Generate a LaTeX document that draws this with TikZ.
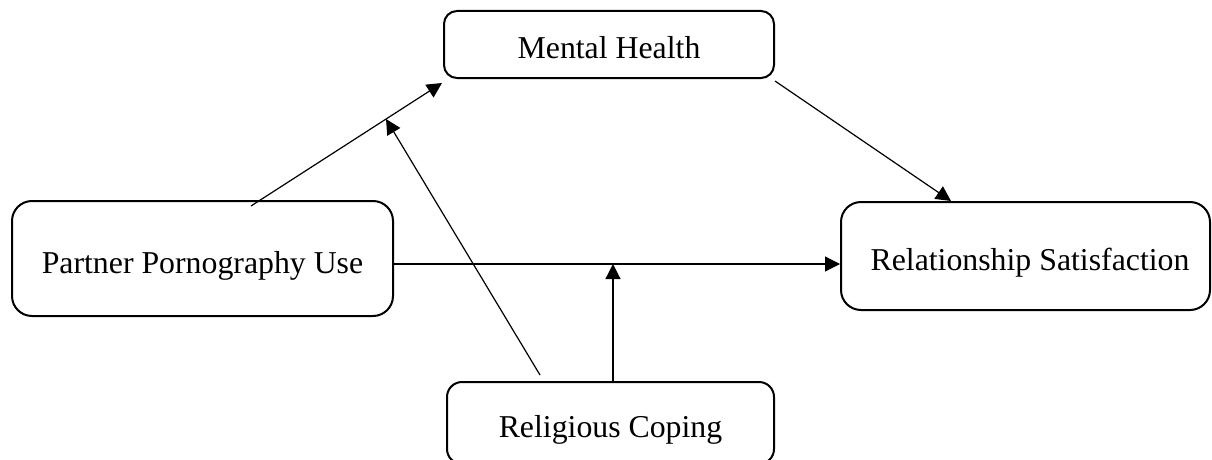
\documentclass[tikz,border=0pt]{standalone}
\usepackage{fontspec}
\setmainfont{Liberation Serif}
\usetikzlibrary{arrows.meta,calc}
\begin{document}
\begin{tikzpicture}[x=1pt,y=-1pt,
  box/.style={draw, line width=2pt, inner sep=0pt,
    font=\fontsize{31.8}{38}\selectfont, text height=34pt, text depth=5pt},
  link/.style={line width=1.2pt, -{Triangle[length=15pt,width=15pt]}}]
\useasboundingbox (0,0) rectangle (1212,460);
\clip (0,0) rectangle (1212,460);

% variables
\node[box, rounded corners=20pt, minimum width=381pt, minimum height=115pt]
  (ppu) at (202.5,258.5) {Partner Pornography Use};
\node[box, rounded corners=13pt, minimum width=330pt, minimum height=67pt]
  (mh) at (609,44.5) {Mental Health};
\node[box, rounded corners=20pt, minimum width=369pt, minimum height=108pt]
  (rs) at (1025.5,256) {\hspace*{9pt}Relationship Satisfaction};
\node[box, rounded corners=15pt, minimum width=327pt, minimum height=82pt]
  (rc) at (610.5,423) {Religious Coping};

% path a: partner use -> mental health
\coordinate (a1) at ($(ppu.north west)+(240,6)$);
\coordinate (a2) at ($(mh.south west)+(-1,4)$);
\draw[link] (a1) -- coordinate[pos=0.707] (j1) (a2);

% path b: mental health -> satisfaction
\coordinate (b1) at ($(mh.south east)+(0,2)$);
\coordinate (b2) at ($(rs.north west)+(111,0)$);
\draw[link] (b1) -- (b2);

% direct path c: partner use -> satisfaction
\coordinate (c1) at ($(ppu.east)+(0,5.5)$);
\draw[link] (c1) -- coordinate[pos=0.491] (j2) (c1 -| rs.west);

% moderation by religious coping
\coordinate (m1) at ($(rc.north west)+(94,-6)$);
\draw[link] (m1) -- (j1);
\draw[link] (rc.north -| j2) -- (j2);
\end{tikzpicture}
\end{document}
